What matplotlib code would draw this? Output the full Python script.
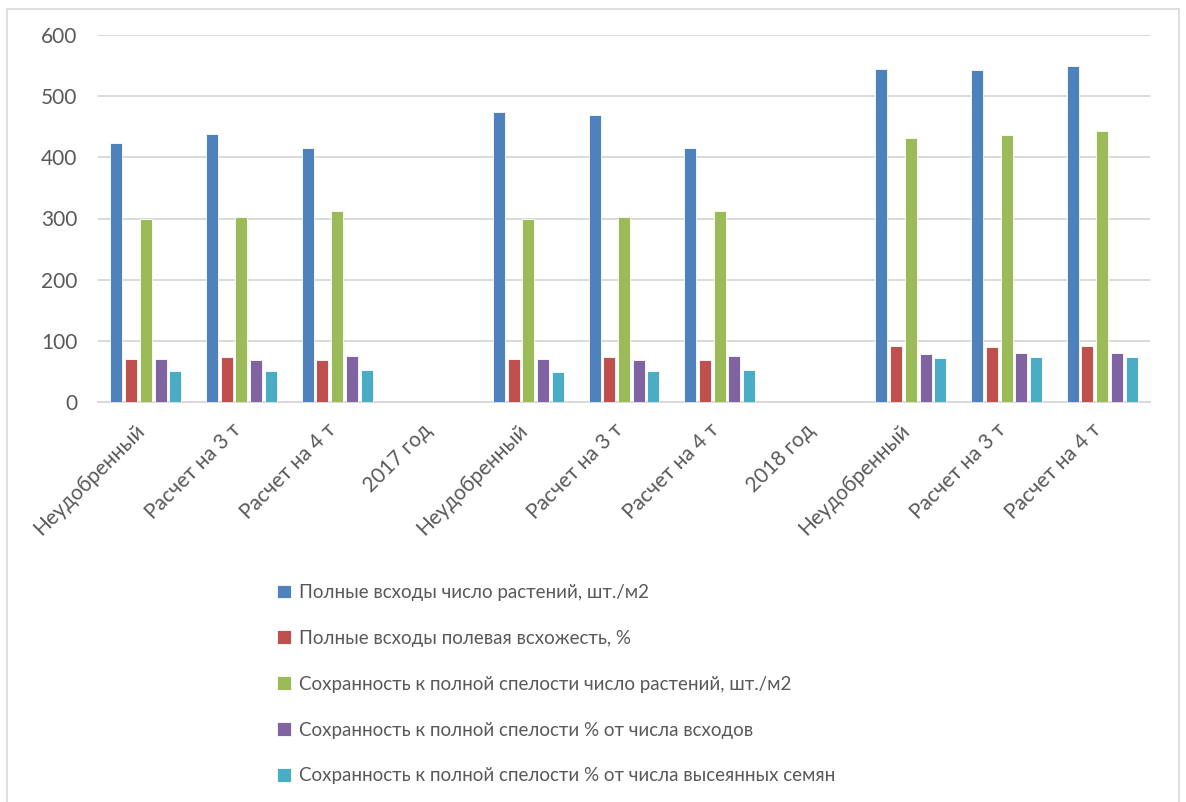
import numpy as np
import matplotlib.pyplot as plt
from matplotlib.patches import Rectangle
from matplotlib.transforms import ScaledTranslation

plt.rcParams['font.family'] = ['Lato', 'DejaVu Sans']

categories = ["Неудобренный", "Расчет на 3 т", "Расчет на 4 т", "2017 год",
              "Неудобренный", "Расчет на 3 т", "Расчет на 4 т", "2018 год",
              "Неудобренный", "Расчет на 3 т", "Расчет на 4 т"]

series_names = ["Полные всходы число растений, шт./м2",
                "Полные всходы полевая всхожесть, %",
                "Сохранность к полной спелости число растений, шт./м2",
                "Сохранность к полной спелости % от числа всходов",
                "Сохранность к полной спелости % от числа высеянных семян"]

nan = np.nan
plants = [423, 438, 416, nan, 474, 470, 416, nan, 545, 542, 549]
germination = [70, 73, 68, nan, 71, 73, 68, nan, 91, 90.5, 91]
kept_plants = [300, 302, 312, nan, 300, 302, 312, nan, 432, 437, 443]
kept_pct_sprouts = [71, 68, 75, nan, 71, 68, 75, nan, 78.5, 80, 80]
kept_pct_seeds = [50, 50, 52, nan, 49, 50, 52, nan, 71.5, 73, 73]

colors = ["#4F81BD", "#C0504D", "#9BBB59", "#8064A2", "#4BACC6"]

fig = plt.figure(figsize=(11.86, 8.02), dpi=100)
ax = fig.add_axes([98 / 1186, 1 - 402 / 802, (1150 - 98) / 1186, (402 - 35) / 802])

x = np.arange(len(categories))
slot = 0.154
width = 0.125
data = [plants, germination, kept_plants, kept_pct_sprouts, kept_pct_seeds]
for i, (vals, c, name) in enumerate(zip(data, colors, series_names)):
    ax.bar(x + (i - 2) * slot, vals, width, color=c, label=name,
           edgecolor='white', linewidth=0.6, zorder=3)

ax.set_xlim(-0.5, len(categories) - 0.5)
ax.set_ylim(0, 600)
ax.set_yticks(range(0, 601, 100))
ax.grid(axis='y', color='#D9D9D9', linewidth=1.4, zorder=0)
for s in ['top', 'right', 'left']:
    ax.spines[s].set_visible(False)
ax.spines['bottom'].set_color('#D9D9D9')
ax.spines['bottom'].set_linewidth(1.4)
ax.tick_params(axis='both', length=0, colors='#595959', labelsize=15)
ax.tick_params(axis='y', pad=15)
ax.set_xticks(x)
ax.set_xticklabels(categories, rotation=45, ha='right', va='top',
                   rotation_mode='anchor', fontsize=15)
ax.tick_params(axis='x', pad=13)
shift = ScaledTranslation(-0.11, 0, fig.dpi_scale_trans)
for lbl in ax.get_xticklabels():
    lbl.set_transform(lbl.get_transform() + shift)

fig.legend(loc='upper left', bbox_to_anchor=(277 / 1186, 1 - 584 / 802),
           frameon=False, fontsize=13.5, labelspacing=1.54,
           borderpad=0, borderaxespad=0,
           handlelength=0.75, handleheight=0.75, handletextpad=0.4,
           labelcolor='#595959')

fig.patches.append(Rectangle((7 / 1186, -0.01), 1 - 14 / 1186, 1 - 1 / 802, transform=fig.transFigure,
                             fill=False, edgecolor='#D9D9D9', linewidth=1.2))

fig.savefig("out.png", dpi=100)
